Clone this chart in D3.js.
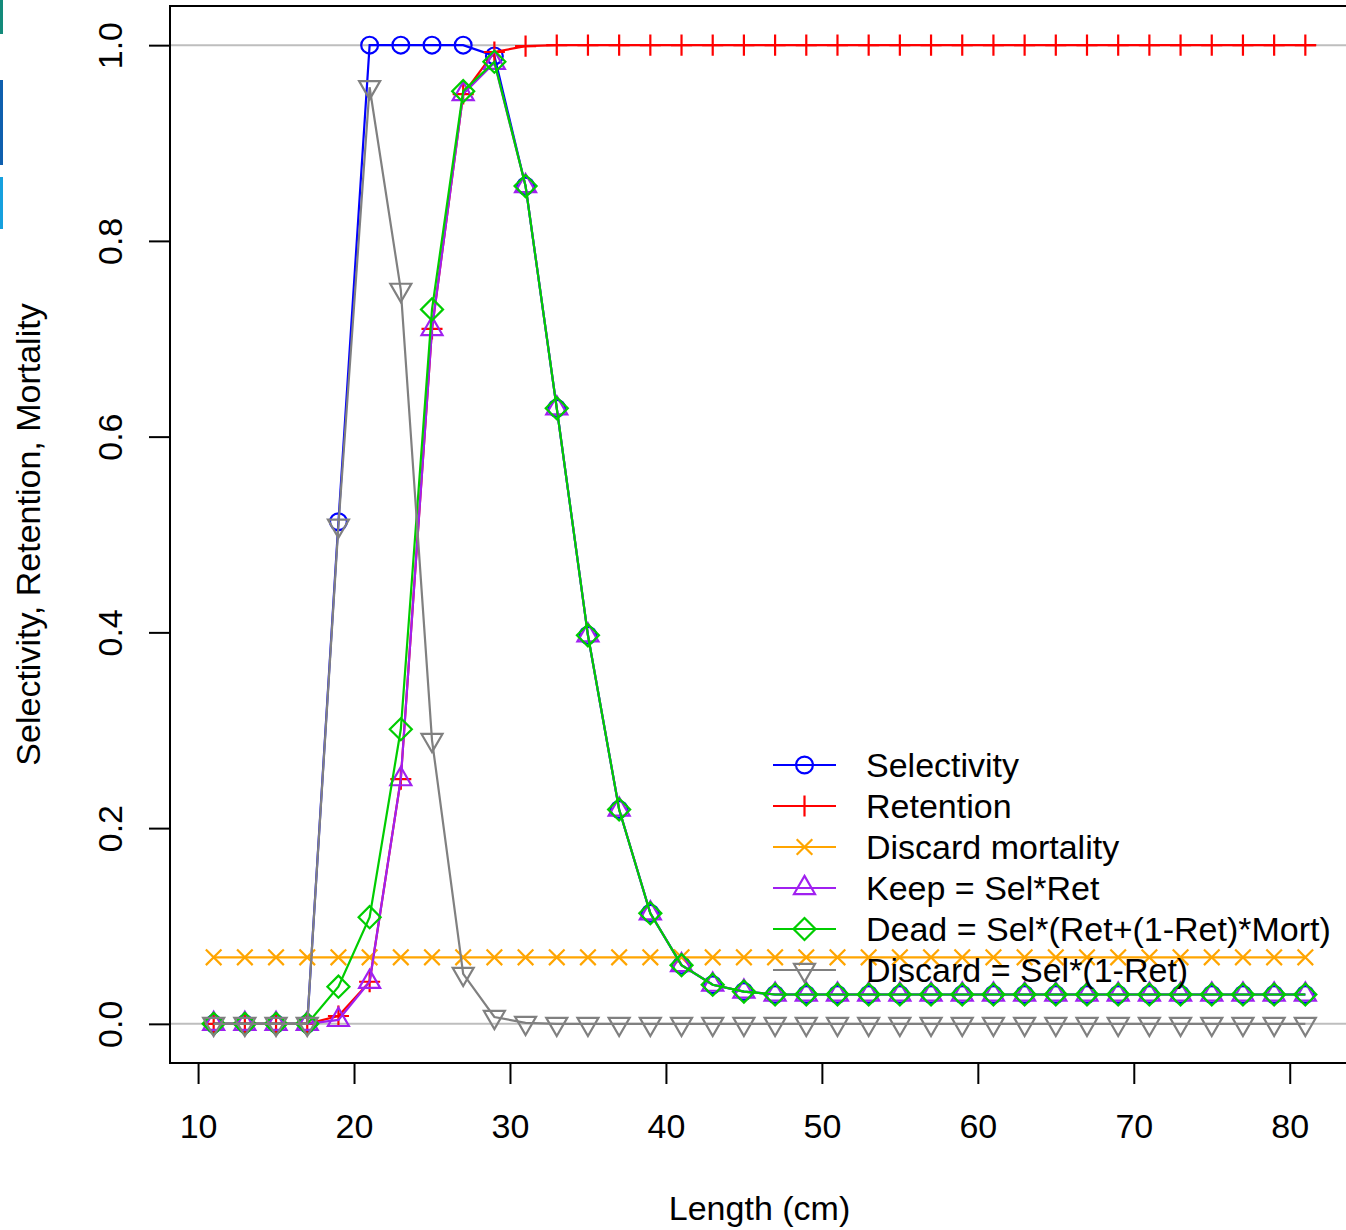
<!DOCTYPE html>
<html><head><meta charset="utf-8">
<script src="https://cdn.jsdelivr.net/npm/d3@7"></script>
<style>body{margin:0;background:#fff;} svg{display:block;} text{font-family:"Liberation Sans",Arial,sans-serif;}</style>
</head><body>
<svg id="c" width="1346" height="1230"></svg>
<script>
const lengths = [11,13,15,17,19,21,23,25,27,29,31,33,35,37,39,41,43,45,47,49,51,53,55,57,59,61,63,65,67,69,71,73,75,77,79,81];
const selectivity = [0,0,0,0,0.513,1,1,1,1,0.989,0.856,0.629,0.397,0.219,0.113,0.060,0.040,0.033,0.030,0.030,0.030,0.030,0.030,0.030,0.030,0.030,0.030,0.030,0.030,0.030,0.030,0.030,0.030,0.030,0.030,0.030];
const retention = [0,0,0,0,0.008,0.043,0.250,0.710,0.950,0.993,0.999,1,1,1,1,1,1,1,1,1,1,1,1,1,1,1,1,1,1,1,1,1,1,1,1,1];
const retentionTail = {x: 81.7, y: 1};
const discardMortality = [0.068,0.068,0.068,0.068,0.068,0.068,0.068,0.068,0.068,0.068,0.068,0.068,0.068,0.068,0.068,0.068,0.068,0.068,0.068,0.068,0.068,0.068,0.068,0.068,0.068,0.068,0.068,0.068,0.068,0.068,0.068,0.068,0.068,0.068,0.068,0.068];
const keep = [0,0,0,0,0.004,0.043,0.250,0.710,0.950,0.982,0.856,0.629,0.397,0.219,0.113,0.060,0.040,0.033,0.030,0.030,0.030,0.030,0.030,0.030,0.030,0.030,0.030,0.030,0.030,0.030,0.030,0.030,0.030,0.030,0.030,0.030];
const dead = [0,0,0,0,0.038,0.109,0.301,0.730,0.953,0.983,0.856,0.629,0.397,0.219,0.113,0.060,0.040,0.033,0.030,0.030,0.030,0.030,0.030,0.030,0.030,0.030,0.030,0.030,0.030,0.030,0.030,0.030,0.030,0.030,0.030,0.030];
const discard = [0,0,0,0,0.509,0.957,0.750,0.290,0.051,0.007,0.001,0,0,0,0,0,0,0,0,0,0,0,0,0,0,0,0,0,0,0,0,0,0,0,0,0];
const xTicks = [10,20,30,40,50,60,70,80];
const yTicks = [0,0.2,0.4,0.6,0.8,1.0];
const legendLabels = ["Selectivity","Retention","Discard mortality","Keep = Sel*Ret","Dead = Sel*(Ret+(1-Ret)*Mort)","Discard = Sel*(1-Ret)"];
const seriesColors = ["#0000FF","#FF0000","#FFA500","#A020F0","#00CD00","#808080"];
const seriesShapes = ["circle","plus","cross","triUp","diamond","triDown"];

const svg = d3.select("#c");
const L = 170, R = 1349, T = 6, B = 1063;
const FS = 34;
const x = d3.scaleLinear().domain([8.2, 83.8]).range([L, R]);
const y = d3.scaleLinear().domain([-0.04, 1.04]).range([B, T]);

// small screen artifacts at left edge
svg.append("rect").attr("x",0).attr("y",0).attr("width",3).attr("height",34).attr("fill","#138a7a");
svg.append("rect").attr("x",0).attr("y",80).attr("width",3).attr("height",85).attr("fill","#0f5fae");
svg.append("rect").attr("x",0).attr("y",177).attr("width",3).attr("height",52).attr("fill","#16a0de");

svg.append("defs").append("clipPath").attr("id","pc").append("rect")
  .attr("x",L).attr("y",T).attr("width",R-L).attr("height",B-T);

const plot = svg.append("g").attr("clip-path","url(#pc)");
[0,1].forEach(v => plot.append("line").attr("x1",L).attr("x2",R).attr("y1",y(v)).attr("y2",y(v))
  .attr("stroke","#BEBEBE").attr("stroke-width",2));

const Rs = 7.8;
function shapePath(s){
  const p = d3.path();
  if (s==="circle"){ p.arc(0,0,8.4,0,2*Math.PI); }
  else if (s==="plus"){ const h=Rs*1.35; p.moveTo(-h,0);p.lineTo(h,0);p.moveTo(0,-h);p.lineTo(0,h); }
  else if (s==="cross"){ const h=Rs; p.moveTo(-h,-h);p.lineTo(h,h);p.moveTo(-h,h);p.lineTo(h,-h); }
  else if (s==="triUp"){ const t=1.555*Rs, xc=1.347*Rs, yc=0.778*Rs; p.moveTo(0,-t);p.lineTo(xc,yc);p.lineTo(-xc,yc);p.closePath(); }
  else if (s==="triDown"){ const t=1.555*Rs, xc=1.347*Rs, yc=0.778*Rs; p.moveTo(0,t);p.lineTo(xc,-yc);p.lineTo(-xc,-yc);p.closePath(); }
  else if (s==="diamond"){ const h=1.414*Rs; p.moveTo(0,-h);p.lineTo(h,0);p.lineTo(0,h);p.lineTo(-h,0);p.closePath(); }
  return p.toString();
}

const allSeries = [selectivity, retention, discardMortality, keep, dead, discard];
const line = d3.line().x(d=>x(d.x)).y(d=>y(d.y));
allSeries.forEach((vals,i)=>{
  const pts = lengths.map((l,j)=>({x:l,y:vals[j]}));
  const linePts = i===1 ? pts.concat([retentionTail]) : pts;
  const g = plot.append("g");
  g.append("path").attr("d",line(linePts)).attr("fill","none").attr("stroke",seriesColors[i]).attr("stroke-width",2.2);
  g.selectAll("path.m").data(pts).enter().append("path").attr("class","m")
    .attr("transform",d=>`translate(${x(d.x)},${y(d.y)})`)
    .attr("d",shapePath(seriesShapes[i])).attr("fill","none").attr("stroke",seriesColors[i]).attr("stroke-width",2.2);
});

svg.append("rect").attr("x",L).attr("y",T).attr("width",R-L).attr("height",B-T).attr("fill","none").attr("stroke","#000").attr("stroke-width",2);

const xAxis = d3.axisBottom(x).tickValues(xTicks).tickSize(21).tickFormat(d3.format("d"));
const gx = svg.append("g").attr("transform",`translate(0,${B})`).call(xAxis);
gx.select(".domain").remove();
gx.selectAll(".tick line").attr("stroke","#000").attr("stroke-width",2);
gx.selectAll(".tick text").attr("font-size",FS).attr("fill","#000").attr("y",63).attr("dy","0.35em")
  .style("font-family",'"Liberation Sans",Arial,sans-serif');

const yAxis = d3.axisLeft(y).tickValues(yTicks).tickSize(21).tickFormat(d3.format(".1f"));
const gy = svg.append("g").attr("transform",`translate(${L},0)`).call(yAxis);
gy.select(".domain").remove();
gy.selectAll(".tick line").attr("stroke","#000").attr("stroke-width",2);
gy.selectAll(".tick text").attr("font-size",FS).attr("fill","#000")
  .attr("x",0).attr("dy","0.35em").attr("text-anchor","middle")
  .attr("transform","translate(-60,0) rotate(-90)")
  .style("font-family",'"Liberation Sans",Arial,sans-serif');

svg.append("text").attr("x",(L+R)/2).attr("y",1220).attr("text-anchor","middle").attr("font-size",FS).text("Length (cm)");
svg.append("text").attr("transform",`translate(40,${(T+B)/2}) rotate(-90)`).attr("text-anchor","middle").attr("font-size",FS).text("Selectivity, Retention, Mortality");

const lg = svg.append("g");
legendLabels.forEach((lab,i)=>{
  const yy = 765 + i*41;
  lg.append("line").attr("x1",773).attr("x2",836).attr("y1",yy).attr("y2",yy).attr("stroke",seriesColors[i]).attr("stroke-width",2.2);
  lg.append("path").attr("transform",`translate(804.5,${yy})`).attr("d",shapePath(seriesShapes[i])).attr("fill","none").attr("stroke",seriesColors[i]).attr("stroke-width",2.2);
  lg.append("text").attr("x",866).attr("y",yy).attr("dy","0.36em").attr("font-size",FS).attr("fill","#000").text(lab);
});
</script>
</body></html>
